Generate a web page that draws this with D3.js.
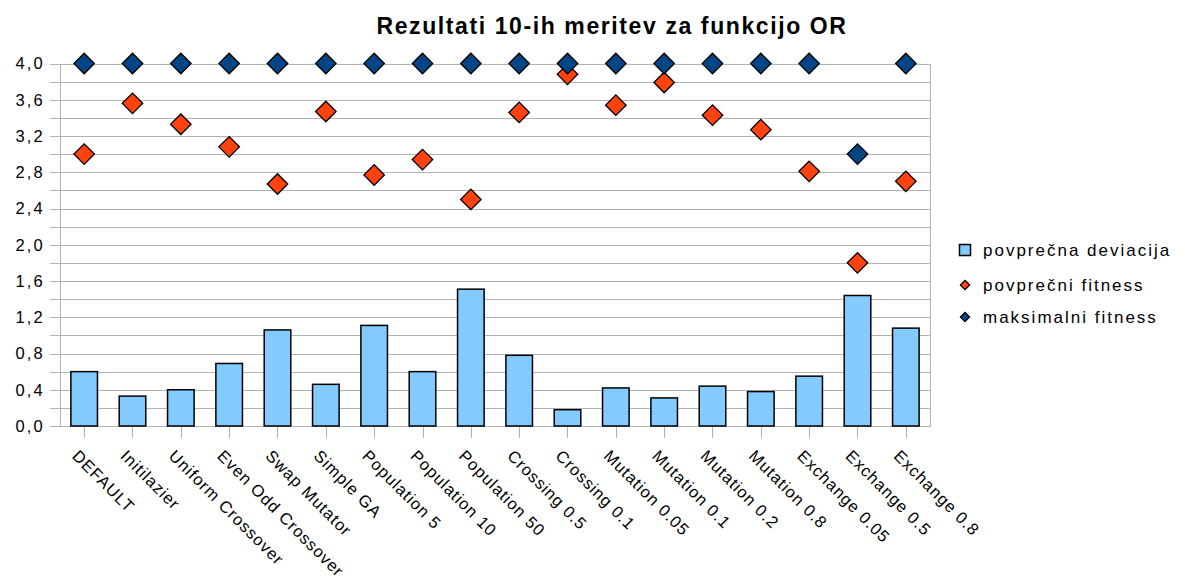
<!DOCTYPE html>
<html>
<head>
<meta charset="utf-8">
<script src="https://cdn.jsdelivr.net/npm/d3@7"></script>
<style>
  body { margin: 0; background: #fff; }
  text { font-family: "Liberation Sans", Arial, sans-serif; fill: #000; }
</style>
</head>
<body>
<script>
const categories = ["DEFAULT", "Initilazier", "Uniform Crossover", "Even Odd Crossover", "Swap Mutator",
  "Simple GA", "Population 5", "Population 10", "Population 50", "Crossing 0.5", "Crossing 0.1",
  "Mutation 0.05", "Mutation 0.1", "Mutation 0.2", "Mutation 0.8", "Exchange 0.05", "Exchange 0.5", "Exchange 0.8"];
const povprecnaDeviacija = [0.60, 0.33, 0.40, 0.69, 1.06, 0.46, 1.11, 0.60, 1.51, 0.78, 0.18, 0.42, 0.31, 0.44, 0.38, 0.55, 1.44, 1.08];
const povprecniFitness = [3.00, 3.56, 3.33, 3.08, 2.67, 3.47, 2.77, 2.94, 2.50, 3.46, 3.88, 3.54, 3.79, 3.43, 3.27, 2.81, 1.80, 2.70];
const maksimalniFitness = [4, 4, 4, 4, 4, 4, 4, 4, 4, 4, 4, 4, 4, 4, 4, 4, 3, 4];
const yTicks = [0, 0.4, 0.8, 1.2, 1.6, 2.0, 2.4, 2.8, 3.2, 3.6, 4.0];
const yTickLabels = ["0,0", "0,4", "0,8", "1,2", "1,6", "2,0", "2,4", "2,8", "3,2", "3,6", "4,0"];
const seriesNames = ["povprečna deviacija", "povprečni fitness", "maksimalni fitness"];

const w = 1185;
const h = 584;
const plotLeft = 60, plotRight = 930, plotTop = 63.5, plotBottom = 426;

const svg = d3.select("body")
  .append("svg")
  .attr("width", w)
  .attr("height", h);

const xScale = d3.scaleBand()
  .domain(categories)
  .range([plotLeft, plotRight])
  .paddingInner(0.45)
  .paddingOuter(0.225);

const yScale = d3.scaleLinear()
  .domain([0, 4])
  .range([plotBottom, plotTop]);

const cx = d => xScale(d) + xScale.bandwidth() / 2;

// grid lines every 0.2
svg.append("g")
  .selectAll("line")
  .data(yScale.ticks(20))
  .enter()
  .append("line")
  .attr("x1", 50)
  .attr("x2", plotRight)
  .attr("y1", d => Math.round(yScale(d)) + 0.5)
  .attr("y2", d => Math.round(yScale(d)) + 0.5)
  .attr("stroke", "#b3b3b3");

// frame
svg.append("line")
  .attr("x1", plotLeft + 0.5).attr("x2", plotLeft + 0.5)
  .attr("y1", Math.round(plotTop)).attr("y2", plotBottom + 1)
  .attr("stroke", "#b3b3b3");
svg.append("line")
  .attr("x1", plotRight + 0.5).attr("x2", plotRight + 0.5)
  .attr("y1", Math.round(plotTop)).attr("y2", plotBottom + 1)
  .attr("stroke", "#b3b3b3");

// y labels
svg.append("g")
  .selectAll("text")
  .data(yTicks)
  .enter()
  .append("text")
  .attr("x", 45)
  .attr("y", d => yScale(d))
  .attr("dy", "0.36em")
  .attr("text-anchor", "end")
  .attr("font-size", "16.5px")
  .attr("letter-spacing", "2.2px")
  .text((d, i) => yTickLabels[i]);

// x ticks
svg.append("g")
  .selectAll("line")
  .data(categories)
  .enter()
  .append("line")
  .attr("x1", d => Math.round(cx(d)) + 0.5)
  .attr("x2", d => Math.round(cx(d)) + 0.5)
  .attr("y1", plotBottom)
  .attr("y2", plotBottom + 12)
  .attr("stroke", "#b3b3b3");

// x labels
svg.append("g")
  .selectAll("text")
  .data(categories)
  .enter()
  .append("text")
  .attr("transform", d => "translate(" + (cx(d) - 13) + ",457) rotate(45)")
  .attr("font-size", "16.5px")
  .attr("letter-spacing", "1px")
  .text(d => d);

// bars
svg.append("g")
  .selectAll("rect")
  .data(povprecnaDeviacija)
  .enter()
  .append("rect")
  .attr("x", (d, i) => xScale(categories[i]))
  .attr("y", d => yScale(d))
  .attr("width", xScale.bandwidth())
  .attr("height", d => plotBottom - yScale(d))
  .attr("fill", "#83caff")
  .attr("stroke", "#000")
  .attr("stroke-width", 1.5);

const diamond = d3.symbol().type(d3.symbolSquare).size(210);

svg.append("g")
  .selectAll("path")
  .data(povprecniFitness)
  .enter()
  .append("path")
  .attr("d", diamond)
  .attr("transform", (d, i) => "translate(" + cx(categories[i]) + "," + yScale(d) + ") rotate(45)")
  .attr("fill", "#ff420e")
  .attr("stroke", "#000")
  .attr("stroke-width", 1.3);

svg.append("g")
  .selectAll("path")
  .data(maksimalniFitness)
  .enter()
  .append("path")
  .attr("d", diamond)
  .attr("transform", (d, i) => "translate(" + cx(categories[i]) + "," + yScale(d) + ") rotate(45)")
  .attr("fill", "#004586")
  .attr("stroke", "#000")
  .attr("stroke-width", 1.3);

// title
svg.append("text")
  .attr("x", 612)
  .attr("y", 34)
  .attr("text-anchor", "middle")
  .attr("font-size", "23px")
  .attr("font-weight", "bold")
  .attr("letter-spacing", "1.6px")
  .text("Rezultati 10-ih meritev za funkcijo OR");

// legend
const legend = svg.append("g");
const rowY = [250, 285, 317];
legend.append("rect")
  .attr("x", 959.5).attr("y", rowY[0] - 5.5)
  .attr("width", 11).attr("height", 11)
  .attr("fill", "#83caff").attr("stroke", "#000").attr("stroke-width", 1.5);
const smallDiamond = d3.symbol().type(d3.symbolSquare).size(44);
legend.append("path")
  .attr("d", smallDiamond)
  .attr("transform", "translate(965," + rowY[1] + ") rotate(45)")
  .attr("fill", "#ff420e").attr("stroke", "#000").attr("stroke-width", 1.2);
legend.append("path")
  .attr("d", smallDiamond)
  .attr("transform", "translate(965," + rowY[2] + ") rotate(45)")
  .attr("fill", "#004586").attr("stroke", "#000").attr("stroke-width", 1.2);
legend.selectAll("text.lg")
  .data(seriesNames)
  .enter()
  .append("text")
  .attr("x", 983)
  .attr("y", (d, i) => rowY[i])
  .attr("dy", "0.35em")
  .attr("font-size", "17px")
  .attr("letter-spacing", "2px")
  .text(d => d);
</script>
</body>
</html>
